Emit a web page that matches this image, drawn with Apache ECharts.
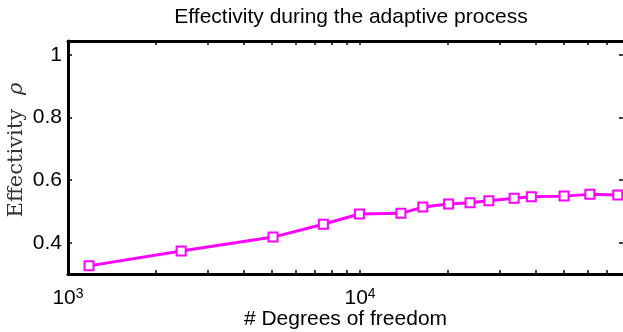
<!DOCTYPE html>
<html>
<head>
<meta charset="utf-8">
<script src="https://cdn.jsdelivr.net/npm/echarts@6/dist/echarts.min.js"></script>
<style>html,body{margin:0;padding:0;background:#fff}#c{width:623px;height:332px}</style>
</head>
<body>
<div id="c"></div>
<script>
// Degrees of freedom (x) and effectivity (y)
var dofs = [1180, 2440, 5035, 7490, 9950, 13800, 16400, 20100, 23800, 27600, 33700, 38600, 49950, 61200, 76300];
var effectivity = [0.326, 0.3735, 0.418, 0.459, 0.492, 0.494, 0.514, 0.5236, 0.528, 0.534, 0.542, 0.547, 0.549, 0.5546, 0.5524];
var xTickValues = [1000, 2000, 3000, 4000, 5000, 6000, 7000, 8000, 9000, 10000, 20000, 30000, 40000, 50000, 60000, 70000];
var xLabelValues = [1000, 10000];
var yTickValues = [0.4, 0.6, 0.8, 1];
var titleText = 'Effectivity during the adaptive process';
var xName = '# Degrees of freedom';

var chart = echarts.init(document.getElementById('c'), null, {renderer: 'canvas'});
var sans = '"Liberation Sans", Arial, Helvetica, sans-serif';
var serif = '"DejaVu Serif", "Liberation Serif", serif';
var axisLineStyle = {color: '#000', width: 3};

function expLabel(v) {
  var e = Math.round(Math.log10(v));
  return '{b|10}{s|' + e + '}';
}

var option = {
  animation: false,
  backgroundColor: '#fff',
  title: {
    text: titleText,
    left: 346, textAlign: 'center',
    top: 2,
    textStyle: {fontFamily: sans, fontSize: 21, fontWeight: 'normal', color: '#000'}
  },
  grid: {left: 68, right: 0, top: 41, bottom: 58, containLabel: false, outerBoundsMode: 'none'},
  xAxis: [{
    type: 'log', logBase: 10, position: 'bottom',
    min: 1000, max: 79500,
    name: xName, nameLocation: 'middle', nameGap: 35, nameMoveOverlap: false,
    nameTextStyle: {fontFamily: sans, fontSize: 21, color: '#000'},
    axisLine: {show: true, lineStyle: axisLineStyle},
    axisTick: {show: true, inside: true, length: 4, customValues: xTickValues, lineStyle: {color: '#000', width: 1.5}},
    minorTick: {show: false},
    splitLine: {show: false},
    axisLabel: {
      customValues: xLabelValues,
      margin: 13,
      formatter: expLabel,
      rich: {
        b: {fontFamily: sans, fontSize: 21, color: '#000', lineHeight: 22, padding: [6, 0, 0, 0], verticalAlign: 'bottom'},
        s: {fontFamily: sans, fontSize: 14, color: '#000', lineHeight: 14, verticalAlign: 'top'}
      }
    }
  }, {
    type: 'log', logBase: 10, position: 'top',
    min: 1000, max: 79500,
    axisLine: {show: true, lineStyle: axisLineStyle},
    axisTick: {show: true, inside: true, length: 4, customValues: xTickValues, lineStyle: {color: '#000', width: 1.5}},
    axisLabel: {show: false},
    splitLine: {show: false}
  }],
  yAxis: [{
    type: 'value', position: 'left',
    min: 0.3, max: 1.045,
    axisLine: {show: true, lineStyle: axisLineStyle},
    axisTick: {show: true, inside: true, length: 4, customValues: yTickValues, lineStyle: {color: '#000', width: 1.5}},
    splitLine: {show: false},
    axisLabel: {
      customValues: yTickValues, margin: 6,
      fontFamily: sans, fontSize: 21, color: '#000',
      formatter: function (v) { return String(Math.round(v * 10) / 10); }
    }
  }, {
    type: 'value', position: 'right',
    min: 0.3, max: 1.045,
    axisLine: {show: false},
    axisTick: {show: true, inside: true, length: 4, customValues: yTickValues, lineStyle: {color: '#000', width: 1.5}},
    splitLine: {show: false},
    axisLabel: {show: false}
  }],
  graphic: [{
    type: 'text',
    x: 17, y: 150,
    rotation: Math.PI / 2,
    style: {
      text: '{r|Effectivity}{g|ρ}',
      align: 'center', verticalAlign: 'middle',
      rich: {
        r: {fontFamily: serif, fontSize: 21, fill: '#333', color: '#333'},
        g: {fontFamily: serif, fontSize: 21, fontStyle: 'italic', fill: '#333', color: '#333', padding: [0, 0, 0, 14]}
      }
    }
  }],
  series: [{
    type: 'line',
    xAxisIndex: 0, yAxisIndex: 0,
    data: dofs.map(function (d, i) { return [d, effectivity[i]]; }),
    lineStyle: {color: '#ff00ff', width: 3},
    itemStyle: {color: '#ff00ff', borderColor: '#ff00ff', borderWidth: 2.5},
    symbol: 'emptyRect',
    symbolSize: 9,
    showSymbol: true,
    clip: false
  }]
};
chart.setOption(option);
</script>
</body>
</html>
